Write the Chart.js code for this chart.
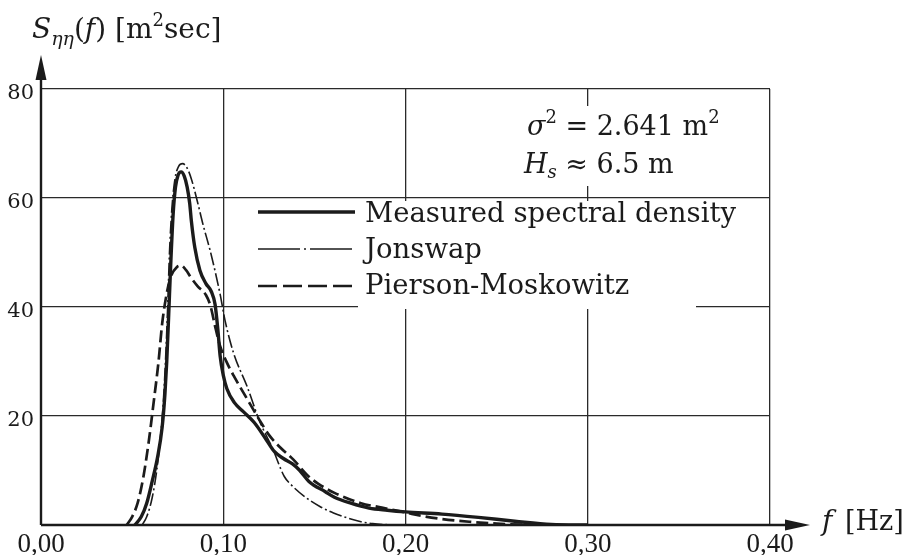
<!DOCTYPE html>
<html>
<head>
<meta charset="utf-8">
<script src="https://cdn.jsdelivr.net/npm/chart.js@4.4.1/dist/chart.umd.min.js"></script>
<style>
  html, body { margin: 0; padding: 0; background: #fff; }
</style>
</head>
<body>
<canvas id="myChart" width="909" height="555"></canvas>
<script>
'use strict';
// values, f in Hz, S in m^2 sec
const fMeasured = [0.0515, 0.055, 0.058, 0.061, 0.064, 0.0665, 0.068, 0.069, 0.070, 0.0712, 0.0725, 0.0738, 0.0752, 0.0769, 0.0786, 0.0802, 0.0816, 0.0825, 0.0844, 0.0872, 0.0905, 0.0935, 0.0955, 0.097, 0.0983, 0.100, 0.102, 0.106, 0.111, 0.117, 0.1235, 0.128, 0.133, 0.138, 0.142, 0.147, 0.156, 0.161, 0.170, 0.180, 0.190, 0.200, 0.220, 0.240, 0.260, 0.280, 0.300];
const sMeasured = [0, 1.5, 4, 8, 12.5, 18, 24, 30, 38, 48, 57, 62, 64.2, 64.8, 64, 62, 59, 55.8, 50.9, 46.7, 44.3, 42.8, 40.5, 36, 31, 27.5, 25, 22.5, 20.8, 18.8, 15.7, 13.5, 12.2, 11.2, 10, 8, 6.1, 5.1, 4, 3.1, 2.7, 2.4, 2, 1.4, 0.7, 0.1, 0];

const fJonswap = [0.0555, 0.058, 0.061, 0.0635, 0.0655, 0.067, 0.0683, 0.0695, 0.0705, 0.0718, 0.0735, 0.0755, 0.0777, 0.080, 0.0825, 0.0857, 0.089, 0.0927, 0.0955, 0.0983, 0.101, 0.1057, 0.113, 0.120, 0.127, 0.1335, 0.1375, 0.1455, 0.153, 0.1605, 0.170, 0.1756, 0.182, 0.190, 0.195];
const sJonswap = [0, 1.5, 5, 10, 16, 22, 30, 40, 50, 58, 63.5, 65.8, 66.3, 65.6, 63.5, 59.5, 55, 50.5, 46.6, 42.3, 37.5, 31.5, 25.5, 19, 14.1, 8.9, 7.3, 5, 3.4, 2.2, 1.1, 0.6, 0.25, 0.05, 0];

const fPM = [0.047, 0.050, 0.053, 0.056, 0.059, 0.062, 0.0645, 0.0665, 0.069, 0.0715, 0.0745, 0.077, 0.0795, 0.0823, 0.086, 0.0905, 0.093, 0.0955, 0.0983, 0.102, 0.1057, 0.1128, 0.120, 0.1256, 0.131, 0.1385, 0.146, 0.152, 0.161, 0.1756, 0.187, 0.200, 0.210, 0.220, 0.235, 0.250, 0.270];
const sPM = [0, 1.5, 4, 8.5, 15, 23, 30, 37, 42.5, 45.8, 47.3, 47.6, 46.8, 45.4, 43.8, 42.2, 40.2, 36.5, 32.8, 29.8, 27.4, 23.3, 19.2, 16.3, 14.3, 12, 9.2, 7.6, 5.9, 4, 3.2, 2.3, 1.6, 1.1, 0.6, 0.25, 0];

const seriesNames = ['Measured spectral density', 'Jonswap', 'Pierson-Moskowitz'];
const xTicks = [0, 0.1, 0.2, 0.3, 0.4];
const yTicks = [0, 20, 40, 60, 80];

const ink = '#1b1b1b';
const serif = '"DejaVu Serif", serif';

function pts(fs, ss) {
  return fs.map((f, i) => ({ x: f, y: ss[i] }));
}

// draws a run of text pieces: [text, font, raise]
function rich(ctx, x, y, parts) {
  for (const p of parts) {
    ctx.font = p[1];
    ctx.fillText(p[0], x, y + (p[2] || 0));
    x += ctx.measureText(p[0]).width;
  }
  return x;
}

const paper = {
  id: 'paper',
  beforeDatasetsDraw(chart) {
    const ctx = chart.ctx;
    ctx.save();
    ctx.fillStyle = '#fff';
    ctx.fillRect(358, 201, 338, 108); // behind legend text
    ctx.fillRect(518, 106, 244, 80);  // behind sigma / Hs note
    ctx.restore();
  },
  afterDatasetsDraw(chart) {
    const ctx = chart.ctx;
    const a = chart.chartArea;
    ctx.save();
    ctx.strokeStyle = ink;
    ctx.fillStyle = ink;

    // axes with arrows
    ctx.lineWidth = 2.4;
    ctx.beginPath();
    ctx.moveTo(a.left, a.bottom);
    ctx.lineTo(a.left, 75);
    ctx.moveTo(a.left, a.bottom);
    ctx.lineTo(792, a.bottom);
    ctx.stroke();
    ctx.beginPath();
    ctx.moveTo(a.left, 55);
    ctx.lineTo(a.left - 5.5, 80);
    ctx.lineTo(a.left + 5.5, 80);
    ctx.closePath();
    ctx.fill();
    ctx.beginPath();
    ctx.moveTo(810, a.bottom);
    ctx.lineTo(785, a.bottom - 5.5);
    ctx.lineTo(785, a.bottom + 5.5);
    ctx.closePath();
    ctx.fill();

    // legend samples
    const ds = chart.data.datasets;
    const rows = [212, 249, 286];
    const dashes = [[], [42, 4, 2, 4], [19, 6]];
    for (let i = 0; i < 3; i++) {
      ctx.lineWidth = ds[i].borderWidth;
      ctx.setLineDash(dashes[i]);
      ctx.beginPath();
      ctx.moveTo(258, rows[i]);
      ctx.lineTo(355, rows[i]);
      ctx.stroke();
    }
    ctx.setLineDash([]);

    ctx.textBaseline = 'alphabetic';
    ctx.textAlign = 'left';
    const base = [222, 258, 294];
    ctx.font = '27.5px ' + serif;
    for (let i = 0; i < 3; i++) {
      ctx.fillText(seriesNames[i], 365, base[i]);
    }

    // note
    rich(ctx, 527, 135, [
      ['σ', 'italic 27px ' + serif], ['2', '18px ' + serif, -12],
      [' = 2.641 m', '27px ' + serif], ['2', '18px ' + serif, -12]
    ]);
    rich(ctx, 524, 173, [
      ['H', 'italic 27px ' + serif], ['s', 'italic 18px ' + serif, 5],
      [' ≈ 6.5 m', '27px ' + serif]
    ]);

    // axis titles
    rich(ctx, 32, 38, [
      ['S', 'italic 28px ' + serif], ['ηη', 'italic 19px ' + serif, 7],
      ['(', '28px ' + serif], ['f', 'italic 28px ' + serif], [') ', '28px ' + serif],
      ['[m', '28px ' + serif], ['2', '18px ' + serif, -12], ['sec]', '28px ' + serif]
    ]);
    ctx.font = 'italic 28px ' + serif;
    ctx.fillText('f', 822, 530);
    ctx.font = '27px ' + serif;
    ctx.fillText('[Hz]', 845, 530);
    ctx.restore();
  }
};

const ctx = document.getElementById('myChart').getContext('2d');
const chart = new Chart(ctx, {
  type: 'line',
  data: {
    datasets: [{
      label: seriesNames[0],
      data: pts(fMeasured, sMeasured),
      borderColor: ink,
      borderWidth: 3.4
    },
    {
      label: seriesNames[1],
      data: pts(fJonswap, sJonswap),
      borderColor: ink,
      borderWidth: 1.6,
      borderDash: [13, 3, 2, 3]
    },
    {
      label: seriesNames[2],
      data: pts(fPM, sPM),
      borderColor: ink,
      borderWidth: 2.7,
      borderDash: [12, 5]
    }]
  },
  options: {
    responsive: false,
    animation: false,
    devicePixelRatio: 1,
    layout: { padding: { left: 0, right: 139, top: 89, bottom: 0 } },
    elements: {
      point: { radius: 0 },
      line: { cubicInterpolationMode: 'monotone', fill: false }
    },
    plugins: {
      legend: { display: false },
      tooltip: { enabled: false }
    },
    scales: {
      x: {
        type: 'linear',
        min: 0,
        max: 0.4,
        afterBuildTicks: (s) => { s.ticks = xTicks.map(v => ({ value: v })); },
        afterFit: (s) => { s.height = 30; },
        border: { display: false },
        grid: { color: '#2a2a2a', lineWidth: 1.3, drawTicks: false },
        ticks: {
          padding: 4,
          color: ink,
          font: { family: '"Liberation Serif", serif', size: 27 },
          callback: (v) => v.toFixed(2).replace('.', ',')
        }
      },
      y: {
        min: 0,
        max: 80,
        afterBuildTicks: (s) => { s.ticks = yTicks.map(v => ({ value: v })); },
        afterFit: (s) => { s.width = 41; },
        border: { display: false },
        grid: { color: '#2a2a2a', lineWidth: 1.3, drawTicks: false },
        ticks: {
          padding: 7,
          labelOffset: 5,
          color: ink,
          font: { family: serif, size: 21 },
          callback: (v) => (v === 0 ? '' : v)
        }
      }
    }
  },
  plugins: [paper]
});
</script>
</body>
</html>
